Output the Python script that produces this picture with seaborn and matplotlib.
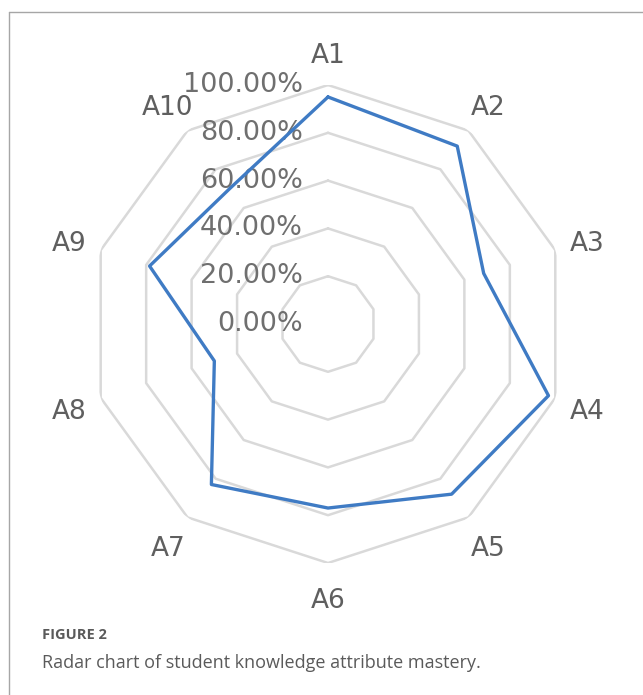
"""
Radar chart of student knowledge attribute mastery (FIGURE 2)
"""

import numpy as np
import matplotlib
matplotlib.use('Agg')
import matplotlib.pyplot as plt
from matplotlib.lines import Line2D
import seaborn as sns

# Data
attributes = ['A1', 'A2', 'A3', 'A4', 'A5', 'A6', 'A7', 'A8', 'A9', 'A10']
mastery = [0.95, 0.92, 0.685, 0.97, 0.88, 0.77, 0.83, 0.50, 0.785, 0.70]
ring_levels = [0.0, 0.2, 0.4, 0.6, 0.8, 1.0]
ring_labels = ['0.00%', '20.00%', '40.00%', '60.00%', '80.00%', '100.00%']

caption_title = 'FIGURE 2'
caption_text = 'Radar chart of student knowledge attribute mastery.'

# Style
sns.set_theme(style='white')
plt.rcParams['font.family'] = ['DejaVu Sans']

fig = plt.figure(figsize=(6.43, 6.95), dpi=100)
ax = fig.add_axes([0.1384, 0.1899, 0.7434, 0.6878], projection='polar')
ax.set_theta_offset(np.pi / 2)
ax.set_theta_direction(-1)
ax.set_ylim(0, 1)
ax.grid(False)
ax.spines['polar'].set_visible(False)
ax.set_xticks([])
ax.set_yticks([])
ax.patch.set_alpha(0)

n = len(attributes)
angles = np.linspace(0, 2 * np.pi, n, endpoint=False)
angles_closed = np.append(angles, 2 * np.pi)

# Polygon rings
for lvl in ring_levels[1:]:
    ax.plot(angles_closed, [lvl] * (n + 1), color='#d9d9d9', lw=1.8, zorder=1)

# Data line
vals_closed = mastery + [mastery[0]]
sns.lineplot(x=angles_closed, y=vals_closed, sort=False, estimator=None,
             ax=ax, color='#3f7bc4', lw=2.4, zorder=3)
ax.set_xlabel('')
ax.set_ylabel('')

# Ring value labels on the top axis
for lvl, lbl in zip(ring_levels, ring_labels):
    ax.annotate(lbl, xy=(0, lvl), xytext=(-18, 0), textcoords='offset points',
                ha='right', va='center', fontsize=19.5, color='#6f6f6f', zorder=2)

# Category labels (nudged a little downward, like the original)
for ang, name in zip(angles, attributes):
    ax.annotate(name, xy=(ang, 1.14), xytext=(0, -3), textcoords='offset points',
                ha='center', va='center', fontsize=19, color='#5f5f5f',
                annotation_clip=False)

# Frame (left and top edges visible)
fig.add_artist(Line2D([0.014, 0.014], [0.0, 0.9827], transform=fig.transFigure,
                      color='#a6a6a6', lw=1))
fig.add_artist(Line2D([0.014, 1.0], [0.9827, 0.9827], transform=fig.transFigure,
                      color='#a6a6a6', lw=1))

# Caption
fig.text(0.0653, 0.0863, caption_title, fontsize=10.5, fontweight='bold',
         color='#5a5a5a', ha='left', va='center', family=['Open Sans', 'DejaVu Sans'])
fig.text(0.0653, 0.0460, caption_text, fontsize=13, color='#5a5a5a',
         ha='left', va='center', family=['Open Sans', 'DejaVu Sans'])

plt.savefig('out.png', dpi=100)
plt.close()
